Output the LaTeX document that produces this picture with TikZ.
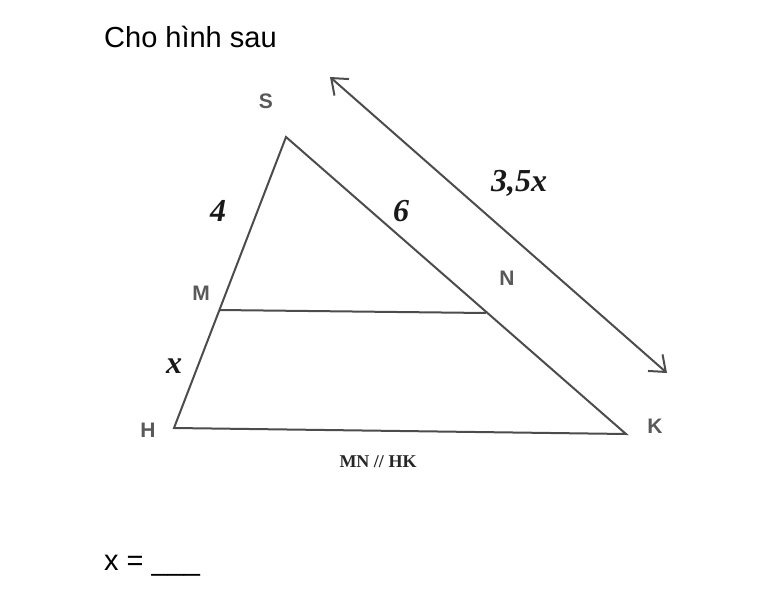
\documentclass[tikz,border=0pt]{standalone}
\usepackage{fontspec}
\setmainfont{Liberation Sans}
\newfontfamily\timesf{Liberation Serif}
\usetikzlibrary{arrows.meta}
\begin{document}
\begin{tikzpicture}[x=1pt,y=-1pt,
  seg/.style={draw=black!70,line width=2pt},
  ptlabel/.style={font=\fontsize{21}{24}\selectfont\bfseries,text=black!65,inner sep=0pt},
  numlabel/.style={font=\timesf\fontsize{32}{34}\selectfont\bfseries\itshape,text=black!90,inner sep=0pt},
  plain/.style={font=\fontsize{29}{32}\selectfont,anchor=west,inner sep=0pt}]
\useasboundingbox (0,0) rectangle (761,607);
\coordinate (S) at (286,137);
\coordinate (M) at (219,310);
\coordinate (H) at (174,428);
\coordinate (N) at (486,313);
\coordinate (K) at (626,434);
\coordinate (A1) at (330,77);
\coordinate (A2) at (667,373);
\draw[seg] (S) -- (H) -- (K) -- cycle;
\draw[seg] (M) -- (N);
\draw[seg,{Straight Barb[length=14pt,width=22pt,line width=2pt]}-{Straight Barb[length=14pt,width=22pt,line width=2pt]}] (A1) -- (A2);
\node[plain] (title) at (104,37) {Cho hình sau};
\node[plain] (ans) at (104,566) {x = \_\_\_};
\node[ptlabel] (lS) at (266,101) {S};
\node[ptlabel] (lM) at (201,293) {M};
\node[ptlabel] (lN) at (507,278) {N};
\node[ptlabel] (lH) at (148,430) {H};
\node[ptlabel] (lK) at (655,426) {K};
\node[numlabel] (l4) at (218,211) {4};
\node[numlabel] (l6) at (401,211) {6};
\node[numlabel] (lx) at (174,366) {x};
\node[numlabel] (l35) at (519,183) {3,5x};
\node[font=\timesf\fontsize{18}{20}\selectfont\bfseries,text=black!85,inner sep=0pt] (par) at (378,462) {MN // HK};
\end{tikzpicture}
\end{document}
